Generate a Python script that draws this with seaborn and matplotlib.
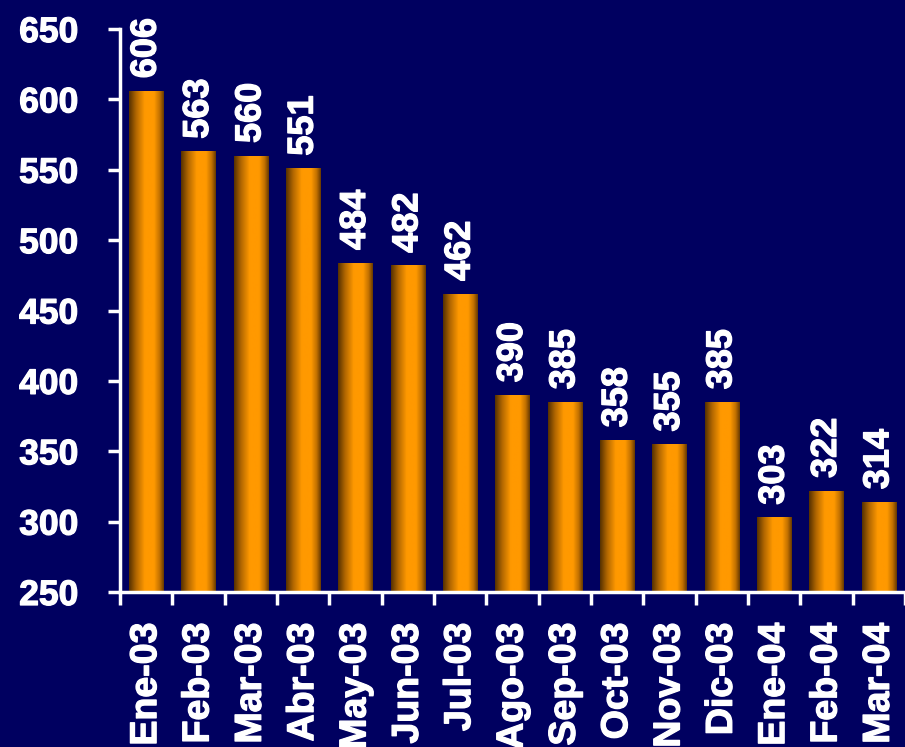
import numpy as np
import pandas as pd
import matplotlib
matplotlib.use("Agg")
import matplotlib.pyplot as plt
import matplotlib.patheffects as pe
from matplotlib.colors import LinearSegmentedColormap
import seaborn as sns

months = ["Ene-03", "Feb-03", "Mar-03", "Abr-03", "May-03", "Jun-03", "Jul-03",
          "Ago-03", "Sep-03", "Oct-03", "Nov-03", "Dic-03", "Ene-04", "Feb-04", "Mar-04"]
values = [606, 563, 560, 551, 484, 482, 462, 390, 385, 358, 355, 385, 303, 322, 314]
yticks = [250, 300, 350, 400, 450, 500, 550, 600, 650]

BG = "#000060"
sns.set_theme(style="white")
plt.rcParams["font.family"] = ["Liberation Sans", "DejaVu Sans"]
plt.rcParams["font.weight"] = "bold"

stroke = [pe.withStroke(linewidth=0.9, foreground="white")]

fig = plt.figure(figsize=(9.05, 7.47), dpi=100, facecolor=BG)
ax = fig.add_axes([120/905, 1-592/747, 1-120/905, (592-29)/747])
ax.set_facecolor(BG)

df = pd.DataFrame({"mes": months, "valor": values})
sns.barplot(data=df, x="mes", y="valor", width=0.65, color="#ff9900", ax=ax,
            saturation=1, edgecolor="none")

ax.set_ylim(250, 650)
ax.set_xlim(-0.5, len(months) - 0.5)

cmap = LinearSegmentedColormap.from_list(
    "bar", [(0.0, "#553000"), (0.2, "#b06600"), (0.45, "#ff9900"),
            (0.72, "#ff9900"), (0.88, "#c07000"), (1.0, "#663800")])
grad = np.linspace(0, 1, 256).reshape(1, -1)
for p, v in zip(ax.patches, values):
    x0 = p.get_x()
    w = p.get_width()
    p.set_facecolor("none")
    im = ax.imshow(grad, cmap=cmap, aspect="auto",
                   extent=[x0, x0 + w, 250, v], origin="lower", zorder=2)
    im.set_clip_path(p)
    ax.text(x0 + w / 2, v + 9, str(v), rotation=90, ha="center", va="bottom",
            color="white", fontsize=26, fontweight="bold", zorder=3,
            path_effects=stroke)

ax.set_xlim(-0.5, len(months) - 0.5)
ax.set_ylim(250, 650)

ax.set_xlabel("")
ax.set_ylabel("")
ax.set_yticks(yticks)
ax.set_yticklabels([str(t) for t in yticks])
ax.tick_params(axis="y", colors="white", labelsize=25.5, length=9, width=2.5,
               pad=21, left=True, direction="out")
for lab in ax.get_yticklabels():
    lab.set_fontweight("bold")
    lab.set_path_effects(stroke)

ax.set_xticks(range(len(months)))
ax.set_xticklabels(months, rotation=90, va="top", ha="center")
ax.tick_params(axis="x", which="major", length=0, pad=22, labelsize=27,
               labelcolor="white")
ax.set_xticks(np.arange(-0.5, len(months), 1.0), minor=True)
ax.tick_params(axis="x", which="minor", length=9, width=2.5, color="white",
               bottom=True, direction="out")
for lab in ax.get_xticklabels():
    lab.set_fontweight("bold")
    lab.set_path_effects(stroke)

for s in ["top", "right"]:
    ax.spines[s].set_visible(False)
for s in ["left", "bottom"]:
    ax.spines[s].set_color("white")
    ax.spines[s].set_linewidth(2.5)
ax.grid(False)

fig.savefig("out.png", dpi=100, facecolor=BG)
